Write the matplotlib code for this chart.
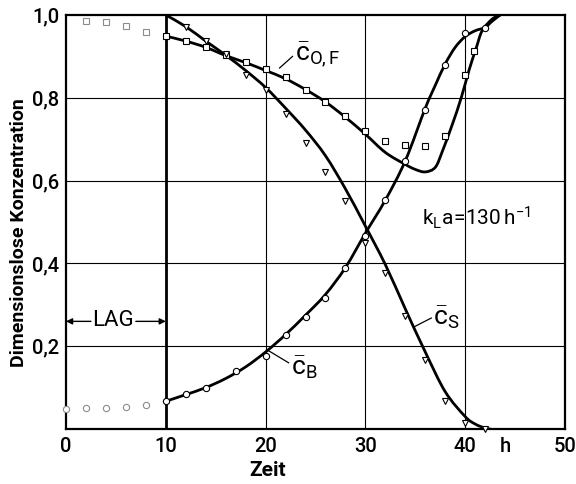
import matplotlib
matplotlib.use('Agg')
import matplotlib.pyplot as plt
from matplotlib.path import Path
from matplotlib.patches import PathPatch

# ---- data ----
# measured points before the lag end (faint markers)
t_pre_B = [0, 2, 4, 6, 8]
cB_pre = [0.048, 0.050, 0.051, 0.053, 0.057]
t_pre_OF = [2, 4, 6, 8]
cOF_pre = [0.986, 0.982, 0.973, 0.960]

# measured c_O,F (squares)
t_OF = [10, 12, 14, 16, 18, 20, 22, 24, 26, 28, 30, 32, 34, 36, 38, 40, 40.9]
cOF = [0.949, 0.938, 0.923, 0.903, 0.887, 0.869, 0.851, 0.820, 0.789, 0.755,
       0.721, 0.696, 0.687, 0.683, 0.707, 0.855, 0.912]

# measured c_S (triangles)
t_S = [12, 14, 16, 18, 20, 22, 24, 26, 28, 30, 32, 34, 36, 38, 40, 42]
cS = [0.972, 0.938, 0.905, 0.856, 0.818, 0.762, 0.690, 0.620, 0.550, 0.450,
      0.376, 0.273, 0.166, 0.068, 0.015, 0.0]

# measured c_B (circles)
t_B = [10, 12, 14, 17, 20, 22, 24, 26, 28, 30, 32, 34, 36, 38, 40, 42]
cB = [0.067, 0.084, 0.099, 0.141, 0.177, 0.226, 0.270, 0.317, 0.390, 0.466,
      0.553, 0.647, 0.770, 0.880, 0.956, 0.969]

# model curves
mt_OF = [10, 12, 14, 16, 18, 20, 22, 24, 26, 28, 30, 32, 34, 35, 36, 37, 37.7,
         38.7, 39.6, 40.4, 41.1, 41.7, 42.7, 43.5]
m_OF = [0.949, 0.937, 0.922, 0.902, 0.885, 0.866, 0.846, 0.820, 0.790, 0.753,
        0.712, 0.668, 0.639, 0.627, 0.621, 0.632, 0.670, 0.735, 0.800, 0.868,
        0.920, 0.962, 0.990, 1.0]
mt_S = [10, 12, 14, 16, 18, 20, 22, 24, 26, 28, 30, 32, 34, 36, 38, 40, 41, 42, 42.5]
m_S = [1.0, 0.972, 0.937, 0.903, 0.866, 0.825, 0.775, 0.722, 0.660, 0.580,
       0.490, 0.397, 0.290, 0.186, 0.090, 0.030, 0.012, 0.002, 0.0]
mt_B = [10, 12, 14, 16, 18, 20, 22, 24, 26, 28, 30, 32, 34, 36, 37, 38, 39, 40,
        41, 42, 42.7, 43.5]
m_B = [0.067, 0.083, 0.100, 0.122, 0.150, 0.186, 0.228, 0.275, 0.325, 0.390,
       0.473, 0.553, 0.648, 0.775, 0.830, 0.882, 0.922, 0.948, 0.962, 0.970,
       0.985, 1.0]

x_ticks = [0, 10, 20, 30, 40, 44.0, 50]
x_ticklabels = ['0', '10', '20', '30', '40', 'h', '50']
y_ticks = [0.2, 0.4, 0.6, 0.8, 1.0]
y_ticklabels = ['0,2', '0,4', '0,6', '0,8', '1,0']

FAM = ['Roboto', 'DejaVu Sans']
plt.rcParams['font.family'] = FAM
plt.rcParams['mathtext.fontset'] = 'custom'
plt.rcParams['mathtext.rm'] = 'Roboto'
plt.rcParams['mathtext.it'] = 'Roboto'


def smooth_path(xs, ys):
    """Bezier path (Catmull-Rom style) through the given points."""
    pts = list(zip(xs, ys))
    n = len(pts)
    verts = [pts[0]]
    codes = [Path.MOVETO]
    for i in range(n - 1):
        p0 = pts[i - 1] if i > 0 else pts[i]
        p1 = pts[i]
        p2 = pts[i + 1]
        p3 = pts[i + 2] if i + 2 < n else pts[i + 1]
        c1 = (p1[0] + (p2[0] - p0[0]) / 6.0, p1[1] + (p2[1] - p0[1]) / 6.0)
        c2 = (p2[0] - (p3[0] - p1[0]) / 6.0, p2[1] - (p3[1] - p1[1]) / 6.0)
        verts += [c1, c2, p2]
        codes += [Path.CURVE4, Path.CURVE4, Path.CURVE4]
    return Path(verts, codes)


fig = plt.figure(figsize=(5.76, 4.84), dpi=100)
ax = fig.add_axes([66/576, 1-429/484, 499/576, 414/484])
ax.set_xlim(0, 50)
ax.set_ylim(0, 1.0)

# grid
for gx in [20, 30, 40]:
    ax.axvline(gx, color='k', lw=0.8, zorder=1)
for gy in [0.2, 0.4, 0.6, 0.8]:
    ax.axhline(gy, color='k', lw=0.8, zorder=1)
ax.axvline(10, color='k', lw=2.0, zorder=2)

for sp in ax.spines.values():
    sp.set_linewidth(1.6)

# model curves
for xs, ys in [(mt_OF, m_OF), (mt_S, m_S), (mt_B, m_B)]:
    ax.add_patch(PathPatch(smooth_path(xs, ys), facecolor='none', edgecolor='k',
                           lw=2.0, zorder=3, capstyle='round'))

# measured points
mk = dict(linestyle='none', markerfacecolor='white', markeredgewidth=0.8, zorder=4,
          clip_on=False)
ax.plot(t_OF, cOF, marker='s', markersize=5, markeredgecolor='k', **mk)
ax.plot(t_S, cS, marker='v', markersize=4.5, markeredgecolor='k', **mk)
ax.plot(t_B, cB, marker='o', markersize=4.5, markeredgecolor='k', **mk)
ax.plot(t_pre_OF, cOF_pre, marker='s', markersize=5, markeredgecolor='0.55', **mk)
ax.plot(t_pre_B, cB_pre, marker='o', markersize=4.5, markeredgecolor='0.55', **mk)

# ticks
ax.set_xticks(x_ticks)
ax.set_xticklabels(x_ticklabels)
ax.set_yticks(y_ticks)
ax.set_yticklabels(y_ticklabels)
ax.tick_params(length=0, labelsize=14.5, pad=6)
ax.tick_params(axis='y', pad=5)
for lab in ax.get_xticklabels() + ax.get_yticklabels():
    lab.set_fontweight(500)

# labels
fig.text(19/576, 1-233/484, 'Dimensionslose Konzentration', rotation=90,
         ha='center', va='center', fontsize=14, fontweight='bold')
fig.text(268/576, 1-470/484, 'Zeit', ha='center', va='center', fontsize=15,
         fontweight='bold')

# curve annotations
ax.plot([21.4, 22.7], [0.872, 0.900], color='k', lw=0.9)
ax.text(22.9, 0.905, r'$\bar{\mathrm{c}}_{\mathrm{O,F}}$', fontsize=19,
        ha='left', va='center')
ax.plot([20.1, 22.3], [0.192, 0.160], color='k', lw=0.9)
ax.text(22.5, 0.148, r'$\bar{\mathrm{c}}_{\mathrm{B}}$', fontsize=19,
        ha='left', va='center')
ax.plot([34.9, 36.6], [0.247, 0.268], color='k', lw=0.9)
ax.text(36.8, 0.268, r'$\bar{\mathrm{c}}_{\mathrm{S}}$', fontsize=19,
        ha='left', va='center')
ax.text(35.7, 0.51, r'$\mathrm{k_La\!=\!130\,h^{-1}}$', fontsize=15,
        ha='left', va='center')

# LAG arrow
ax.text(4.7, 0.262, 'LAG', fontsize=16, ha='center', va='center')
arr = dict(arrowstyle='-|>', color='k', lw=1.0, mutation_scale=9,
           shrinkA=0, shrinkB=0)
ax.annotate('', xy=(0, 0.26), xytext=(2.5, 0.26), arrowprops=arr)
ax.annotate('', xy=(10, 0.26), xytext=(7.0, 0.26), arrowprops=arr)

fig.savefig('out.png', dpi=100)
